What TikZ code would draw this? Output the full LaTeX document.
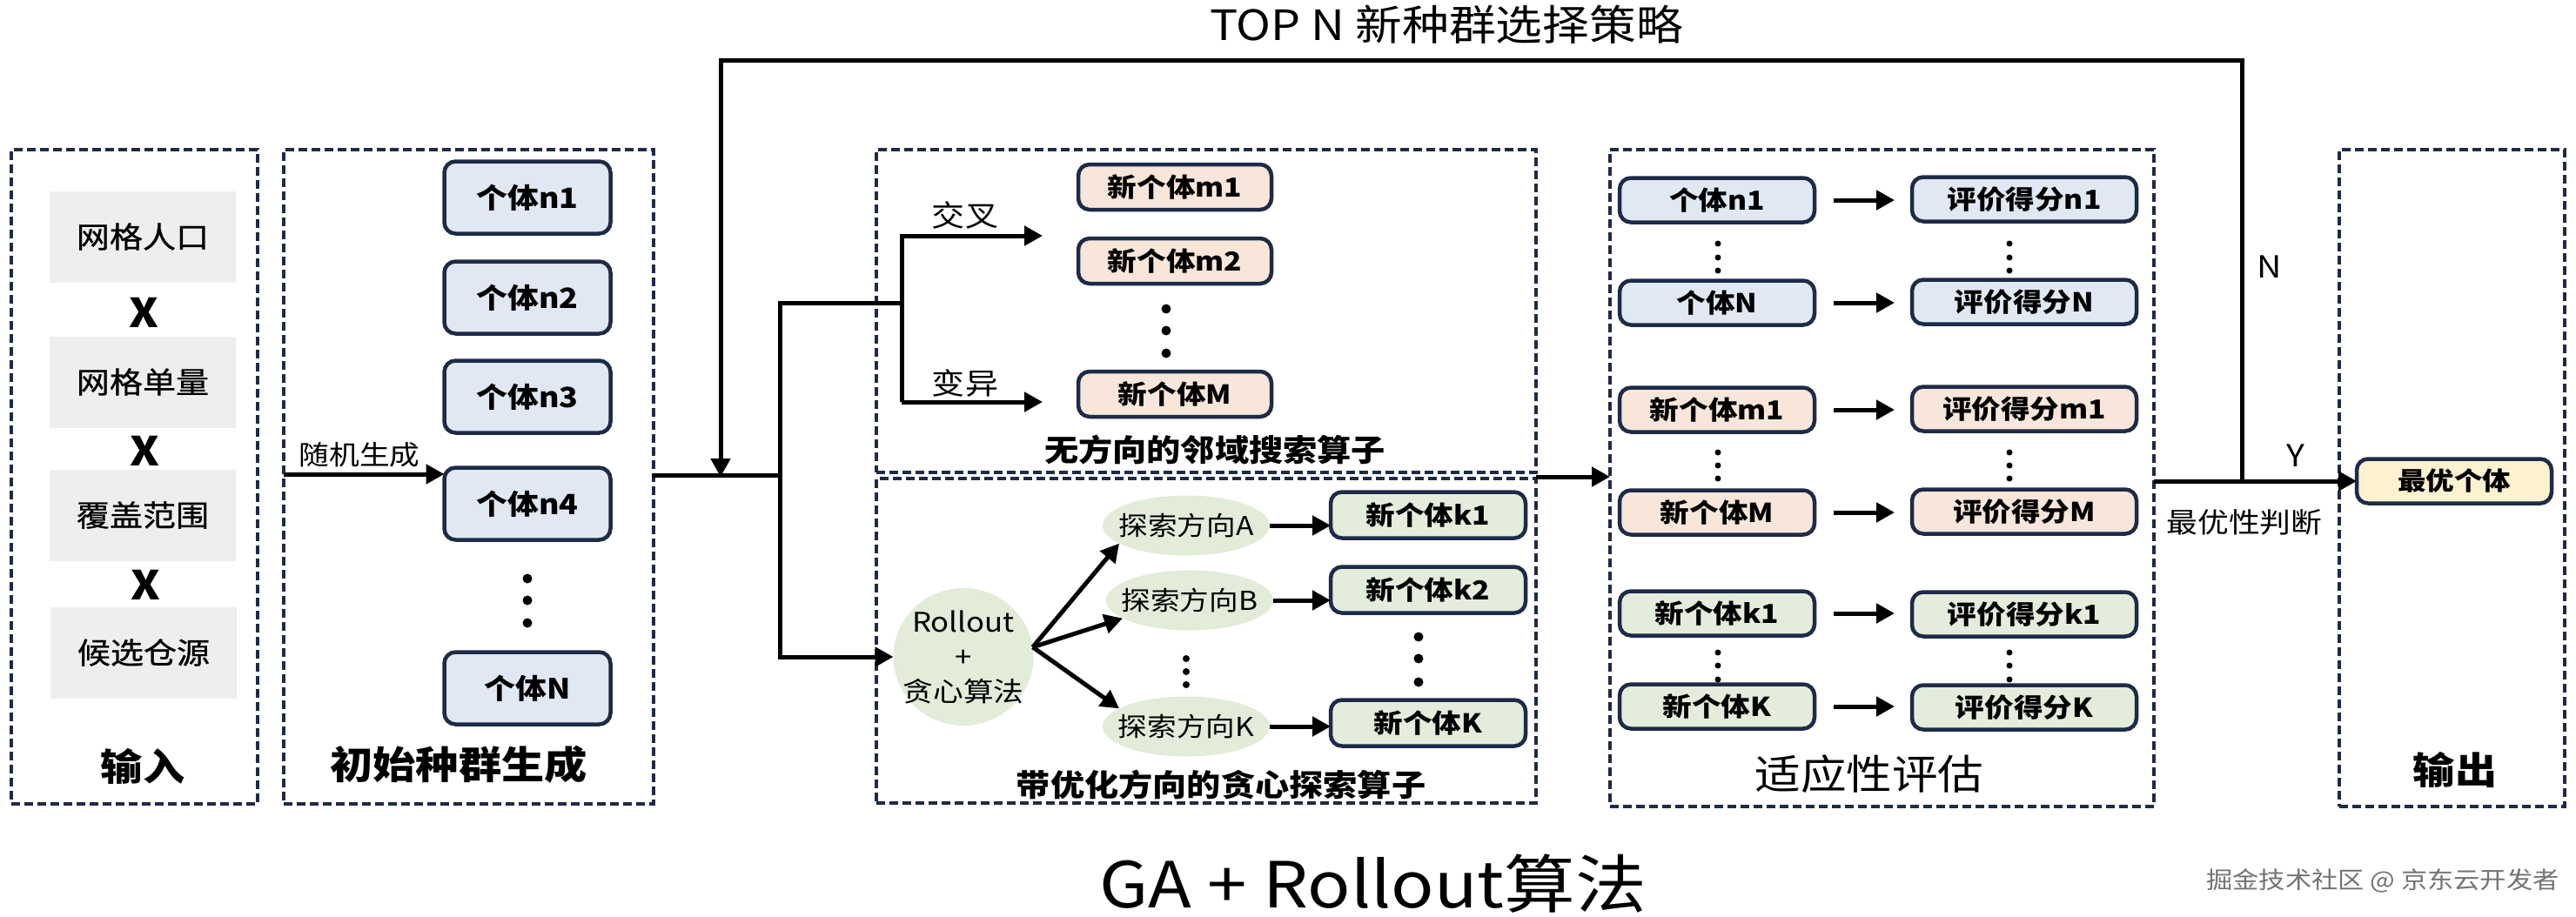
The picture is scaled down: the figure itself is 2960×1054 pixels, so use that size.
\documentclass[tikz,border=0pt]{standalone}
\usepackage{fontspec}
\setmainfont{Noto Sans CJK SC}[FakeStretch=1.12]
\newfontfamily\medfont{Noto Sans CJK SC}[FakeStretch=1.12, FakeBold=0.8]
\usetikzlibrary{arrows.meta,shapes.geometric}
\definecolor{navy}{HTML}{1E2B47}
\definecolor{cblue}{HTML}{DFE8F3}
\definecolor{cpeach}{HTML}{F7E6D9}
\definecolor{cgreen}{HTML}{E4ECDB}
\definecolor{cyell}{HTML}{FDF2CF}
\definecolor{cgray}{HTML}{EEEEEE}
\definecolor{cell}{HTML}{E3EBD9}
\newcommand\myfs[1]{\fontsize{#1}{#1}\selectfont}
\begin{document}
\begin{tikzpicture}[x=1pt,y=-1pt,
  every node/.style={inner sep=0pt, outer sep=0pt},
  dbox/.style={draw=navy, line width=3.5pt, dash pattern=on 10pt off 5pt},
  gbox/.style={fill=cgray, minimum width=214pt, minimum height=105pt, font=\medfont\myfs{34}},
  indv/.style={draw=navy, line width=4.5pt, rounded corners=13pt, font=\myfs{30}\bfseries},
  pb/.style={indv, fill=cblue, minimum width=191pt, minimum height=83pt, font=\myfs{32}\bfseries},
  mb/.style={indv, fill=cpeach, minimum width=222pt, minimum height=52pt},
  kb/.style={indv, fill=cgreen, minimum width=224pt, minimum height=53pt},
  el/.style={indv, minimum width=224pt, minimum height=51pt},
  er/.style={indv, minimum width=258pt, minimum height=51pt},
  ell/.style={ellipse, fill=cell, minimum width=192pt, minimum height=69pt},
  lbl/.style={font=\myfs{30}},
  ln/.style={line width=5pt, line cap=rect},
  arr/.style={line width=5pt, -{Triangle[length=21pt,width=22pt]}},
  xm/.style={font=\myfs{46}\bfseries},
  dot/.style={circle, fill=black, minimum size=11pt},
  sdot/.style={circle, fill=black, minimum size=8pt}
]
\useasboundingbox (0,0) rectangle (2960,1054);

% ---------- dashed frames
\node[dbox, minimum width=283pt, minimum height=752pt] (inbox) at (154.5,548) {};
\node[dbox, minimum width=425pt, minimum height=752pt] (initbox) at (538.5,548) {};
\node[dbox, minimum width=758pt, minimum height=371pt] (upbox) at (1386,357.5) {};
\node[dbox, minimum width=758pt, minimum height=373pt] (lowbox) at (1386,736.5) {};
\node[dbox, minimum width=625pt, minimum height=755pt] (evalbox) at (2162.5,549.5) {};
\node[dbox, minimum width=259pt, minimum height=755pt] (outbox) at (2817.5,549.5) {};

% ---------- input
\node[gbox] (g1) at (164,272) {网格人口};
\node[xm] (x1) at (165,359) {X};
\node[gbox] (g2) at (164,439) {网格单量};
\node[xm] (x2) at (166,518) {X};
\node[gbox] (g3) at (164,592) {覆盖范围};
\node[xm] (x3) at (167,672) {X};
\node[gbox] (g4) at (165,750) {候选仓源};
\node[font=\myfs{43}\bfseries] (tin) at (164,881) {输入};

% ---------- initial population
\node[pb] (n1) at (606,227) {个体n1};
\node[pb] (n2) at (606,342) {个体n2};
\node[pb] (n3) at (606,456) {个体n3};
\node[pb] (n4) at (606,579) {个体n4};
\node[dot] (pd1) at (606,665) {};
\node[dot] (pd2) at (606,690) {};
\node[dot] (pd3) at (606,716) {};
\node[pb] (nN) at (606,791) {个体N};
\node[font=\myfs{44}\bfseries] (tinit) at (527,879) {初始种群生成};
\coordinate (rin) at (326,545);
\draw[arr] (rin) -- (rin -| n4.west);
\node[font=\myfs{31}] (rnd) at (413,523) {随机生成};

% ---------- upper operator
\node[mb] (m1) at (1350,215) {新个体m1};
\node[mb] (m2) at (1350,300) {新个体m2};
\node[dot] (md1) at (1340,355) {};
\node[dot] (md2) at (1340,380) {};
\node[dot] (md3) at (1340,406) {};
\node[mb] (mM) at (1350,453) {新个体M};
\node[font=\myfs{34}] (cross) at (1109,247) {交叉};
\node[font=\myfs{34}] (mut) at (1109,440) {变异};
\node[font=\myfs{35}\bfseries] (tup) at (1396,517) {无方向的邻域搜索算子};

% ---------- lower operator
\node[ellipse, fill=cell, minimum width=161pt, minimum height=158pt] (R) at (1107,755) {};
\node[align=center, font=\fontsize{31}{40}\selectfont] (Rt) at (R.center) {Rollout\\+\\贪心算法};
\node[ell, label={[lbl]center:探索方向A}] (A) at (1363,604) {};
\node[ell, label={[lbl]center:探索方向B}] (B) at (1367,690) {};
\node[sdot] (ad1) at (1363,757) {};
\node[sdot] (ad2) at (1363,772) {};
\node[sdot] (ad3) at (1363,787) {};
\node[ell, label={[lbl]center:探索方向K}] (K) at (1363,835) {};
\node[kb] (k1) at (1641,592) {新个体k1};
\node[kb] (k2) at (1641,678) {新个体k2};
\node[dot] (kd1) at (1630,732) {};
\node[dot] (kd2) at (1630,757) {};
\node[dot] (kd3) at (1630,784) {};
\node[kb] (kK) at (1641,831) {新个体K};
\node[font=\myfs{35}\bfseries] (tlow) at (1403,902) {带优化方向的贪心探索算子};

\draw[arr] (R.8) -- (A.195);
\draw[arr] (R.8) -- (B.195);
\draw[arr] (R.8) -- (K.165);
\draw[arr] (A.east) -- (A.east -| k1.west);
\draw[arr] (B.east) -- (B.east -| k2.west);
\draw[arr] (K.east) -- (K.east -| kK.west);

% ---------- branching connectors
\coordinate (mo) at (751,546);
\coordinate (br) at (896,546);
\coordinate (bt) at (896,348);
\coordinate (bb) at (896,755);
\coordinate (ct) at (1036,348);
\coordinate (cx) at (1036,271);
\coordinate (cv) at (1036,462);
\coordinate (ex) at (1198,271);
\coordinate (ev) at (1198,462);
\draw[ln] (mo) -- (br);
\draw[arr] (ct) -- (bt) -- (bb) -- (R.west);
\draw[arr] (cv) -- (cx) -- (ex);
\draw[arr] (cv) -- (ev);

% ---------- fitness evaluation
\node[el, fill=cblue] (e1) at (1973,230) {个体n1};
\node[er, fill=cblue] (s1) at (2326,229) {评价得分n1};
\node[el, fill=cblue] (e2) at (1973,348) {个体N};
\node[er, fill=cblue] (s2) at (2326,347) {评价得分N};
\node[el, fill=cpeach] (e3) at (1973,471) {新个体m1};
\node[er, fill=cpeach] (s3) at (2326,470) {评价得分m1};
\node[el, fill=cpeach] (e4) at (1973,589) {新个体M};
\node[er, fill=cpeach] (s4) at (2326,588) {评价得分M};
\node[el, fill=cgreen] (e5) at (1973,705) {新个体k1};
\node[er, fill=cgreen] (s5) at (2326,706) {评价得分k1};
\node[el, fill=cgreen] (e6) at (1973,812) {新个体K};
\node[er, fill=cgreen] (s6) at (2326,813) {评价得分K};
\foreach \i in {1,...,6}{
  \draw[arr, shorten <=22pt, shorten >=20pt] (e\i.east) -- (e\i.east -| s\i.west);
}
\foreach \y in {280,296,311,520,535,550,750,765,781}{
  \fill (1974,\y) circle (3.5pt);
  \fill (2309,\y) circle (3.5pt);
}
\node[font=\myfs{47}] (teval) at (2148,890) {适应性评估};

\coordinate (lo) at (1765,548);
\draw[arr] (lo) -- (lo -| evalbox.west);

% ---------- output
\node[indv, fill=cyell, minimum width=224pt, minimum height=51pt, font=\myfs{29}\bfseries] (best) at (2820,553) {最优个体};
\node[font=\myfs{43}\bfseries] (tout) at (2821,885) {输出};
\draw[arr] (best.west -| evalbox.east) -- (best.west);
\coordinate (j1) at (2576,553);
\coordinate (jt) at (2576,70);
\coordinate (ft) at (828,70);
\coordinate (fb) at (828,548);
\draw[arr] (j1) -- (jt) -- (ft) -- (fb);
\node[font=\myfs{35}] (lN) at (2608,307) {N};
\node[font=\myfs{35}] (lY) at (2638,524) {Y};
\node[font=\myfs{32}] (judge) at (2579,600) {最优性判断};

% ---------- titles
\node[font=\myfs{48}] (ttop) at (1662,28) {TOP N 新种群选择策略};
\node[font=\myfs{73}] (tbot) at (1578,1016) {GA + Rollout算法};
\node[font=\myfs{27}, text=black!55] (wm) at (2738,1012) {掘金技术社区 @ 京东云开发者};
\end{tikzpicture}
\end{document}
